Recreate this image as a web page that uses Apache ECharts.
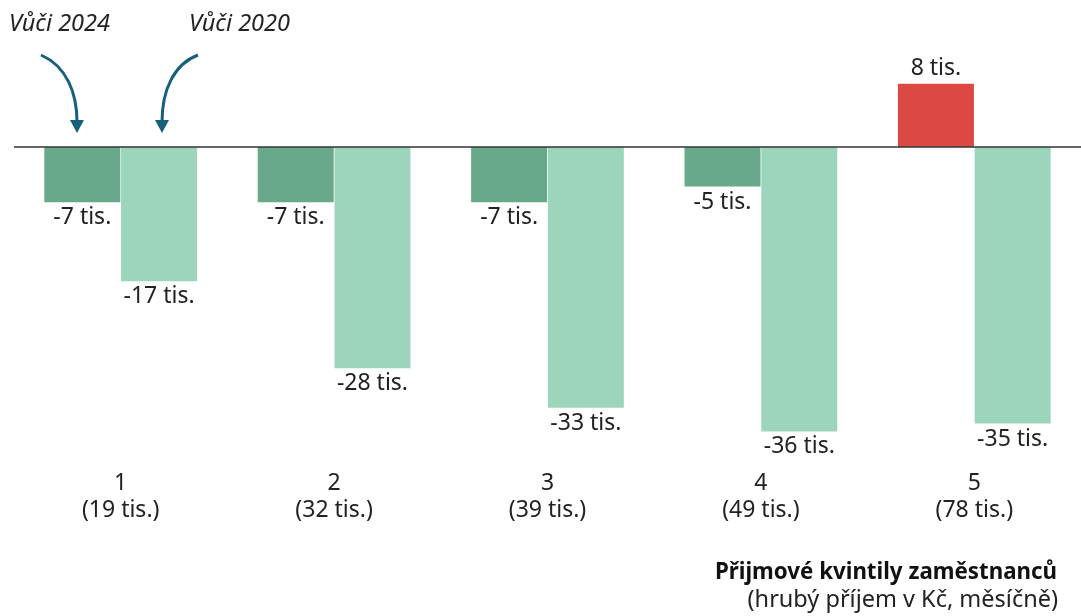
<!DOCTYPE html>
<html>
<head>
<meta charset="utf-8">
<script src="https://cdn.jsdelivr.net/npm/echarts@6/dist/echarts.min.js"></script>
<style>
    html, body { margin: 0; padding: 0; background: #fff; }
    #main { width: 1081px; height: 616px; }
</style>
</head>
<body>
<div id="main"></div>
<script>
// kvintily + jejich prumerny hruby prijem
var quintiles = ['1', '2', '3', '4', '5'];
var quintileIncome = ['19 tis.', '32 tis.', '39 tis.', '49 tis.', '78 tis.'];
// zmena v tis. Kc
var vs2024 = [-7, -7, -7, -5, 8];
var vs2020 = [-17, -28, -33, -36, -35];

var FONT = '"Noto Sans", sans-serif';
var DARK = '#68a88b';
var LIGHT = '#9dd5bc';
var RED = '#dc4842';
var ARROW = '#17607c';

var myChart = echarts.init(document.getElementById('main'));

var labelStyle = {
    show: true,
    fontFamily: FONT,
    fontSize: 23,
    color: '#222',
    distance: 4,
    formatter: function (p) { return p.value + ' tis.'; }
};

var option = {
    animation: false,
    grid: { left: 14, top: 68, right: -3, height: 395 },
    xAxis: {
        type: 'category',
        data: quintiles.map(function (q, i) { return q + '\n(' + quintileIncome[i] + ')'; }),
        axisLine: { show: false, onZero: false },
        axisTick: { show: false },
        axisLabel: { fontFamily: FONT, fontSize: 23, color: '#222', lineHeight: 27, margin: 7 }
    },
    yAxis: {
        type: 'value',
        min: -40,
        max: 10,
        show: false
    },
    series: [
        {
            name: 'Vůči 2024',
            type: 'bar',
            barWidth: 76,
            barGap: '1%',
            data: vs2024.map(function (v) {
                return {
                    value: v,
                    itemStyle: { color: v > 0 ? RED : DARK },
                    label: { position: v > 0 ? 'top' : 'bottom' }
                };
            }),
            label: labelStyle,
            markLine: {
                silent: true,
                symbol: 'none',
                label: { show: false },
                lineStyle: { color: '#333', width: 1.5, type: 'solid' },
                data: [{ yAxis: 0 }]
            },
            z: 3
        },
        {
            name: 'Vůči 2020',
            type: 'bar',
            barWidth: 76,
            data: vs2020.map(function (v) {
                return { value: v, label: { position: v > 0 ? 'top' : 'bottom' } };
            }),
            itemStyle: { color: LIGHT },
            label: labelStyle,
            z: 3
        }
    ],
    graphic: [
        { type: 'text', left: 9, top: 13, style: { text: 'Vůči 2024', fontFamily: FONT, fontStyle: 'italic', fontSize: 23.5, fill: '#222' } },
        { type: 'text', left: 189, top: 13, style: { text: 'Vůči 2020', fontFamily: FONT, fontStyle: 'italic', fontSize: 23.5, fill: '#222' } },
        { type: 'bezierCurve', shape: { x1: 41, y1: 55, cpx1: 66, cpy1: 66, cpx2: 77, cpy2: 92, x2: 77, y2: 122 },
          style: { stroke: ARROW, lineWidth: 3, fill: null } },
        { type: 'polygon', shape: { points: [[70, 120], [84, 120], [77, 133]] }, style: { fill: ARROW } },
        { type: 'bezierCurve', shape: { x1: 198, y1: 55, cpx1: 174, cpy1: 64, cpx2: 162, cpy2: 90, x2: 162, y2: 122 },
          style: { stroke: ARROW, lineWidth: 3, fill: null } },
        { type: 'polygon', shape: { points: [[155, 120], [169, 120], [162, 133]] }, style: { fill: ARROW } },
        { type: 'text', right: 24, top: 562, style: { text: 'Přijmové kvintily zaměstnanců', fontFamily: FONT, fontWeight: 'bold', fontSize: 22.3, fill: '#111' } },
        { type: 'text', right: 23, top: 588, style: { text: '(hrubý příjem v Kč, měsíčně)', fontFamily: FONT, fontSize: 23.5, fill: '#222' } }
    ]
};

myChart.setOption(option);
window.onresize = myChart.resize;
</script>
</body>
</html>
